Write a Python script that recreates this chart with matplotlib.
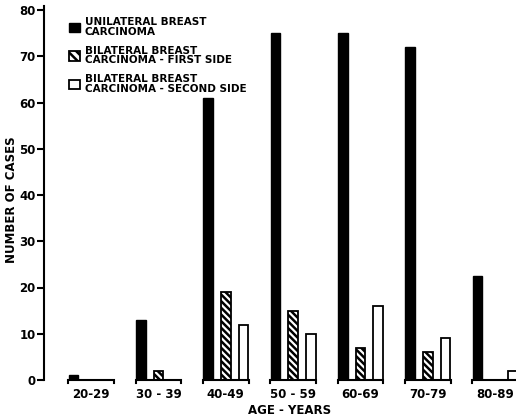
import matplotlib
matplotlib.use("Agg")
import matplotlib.pyplot as plt
import matplotlib.patches as mpatches
import numpy as np

# dati
age_groups = ["20-29", "30 - 39", "40-49", "50 - 59", "60-69", "70-79", "80-89"]
unilateral = [1, 13, 61, 75, 75, 72, 22.5]
bilateral_first = [0, 2, 19, 15, 7, 6, 0]
bilateral_second = [0, 0, 12, 10, 16, 9, 2]

plt.rcParams['font.family'] = ['DejaVu Sans']
plt.rcParams['font.weight'] = 'bold'
plt.rcParams['hatch.linewidth'] = 1.8

fig = plt.figure(figsize=(5.16, 4.17), dpi=100)
ax = fig.add_axes([44/516, 37/417, 1 - 44/516, 370/417])

x = np.arange(len(age_groups))
w = 0.145
off = 0.262

ax.bar(x - off, unilateral, w, color="black", edgecolor="black", linewidth=1)
ax.bar(x, bilateral_first, w, color="white", edgecolor="black", linewidth=1.3, hatch="\\\\\\\\\\")
ax.bar(x + off, bilateral_second, w, color="white", edgecolor="black", linewidth=1.3)

# base di ogni gruppo con le stanghette
half = 0.338
for xi in x:
    ax.plot([xi - half, xi - half, xi + half, xi + half], [-0.7, 0, 0, -0.7],
            color="black", lw=1.5, clip_on=False, solid_joinstyle="miter")

ax.set_xlim(-0.70, 6.31)
ax.set_ylim(0, 80)
ax.set_xticks(x)
ax.set_xticklabels(age_groups, fontsize=8.5, fontweight="bold")
ax.tick_params(axis="x", length=0, pad=6)
ax.set_yticks(np.arange(0, 81, 10))
ax.tick_params(axis="y", length=5, width=1.5, pad=1, labelsize=8.5)
for lab in ax.get_yticklabels():
    lab.set_fontweight("bold")

for s in ["top", "right", "bottom"]:
    ax.spines[s].set_visible(False)
ax.spines["left"].set_linewidth(1.5)
ax.spines["left"].set_bounds(0, 80.8)

fig.text(290/516, 1 - 411/417, "AGE - YEARS", ha="center", va="center",
         fontsize=8.5, fontweight="bold")
fig.text(12/516, 1 - 200/417, "NUMBER OF CASES", ha="center", va="center",
         rotation=90, fontsize=8.5, fontweight="bold")

handles = [
    mpatches.Patch(facecolor="black", edgecolor="black"),
    mpatches.Patch(facecolor="white", edgecolor="black", hatch="\\\\\\\\", linewidth=1.3),
    mpatches.Patch(facecolor="white", edgecolor="black", linewidth=1.3),
]
labels = ["UNILATERAL BREAST\nCARCINOMA",
          "BILATERAL BREAST\nCARCINOMA - FIRST SIDE",
          "BILATERAL BREAST\nCARCINOMA - SECOND SIDE"]
leg = fig.legend(handles, labels, loc="upper left", bbox_to_anchor=(62/516, 1 - 10/417),
                 frameon=False, fontsize=7.5, handlelength=1.0, handleheight=1.0,
                 handletextpad=0.5, labelspacing=0.85, borderpad=0.2)
for t in leg.get_texts():
    t.set_fontweight("bold")
    t.set_linespacing(0.95)

plt.savefig("out.png", dpi=100)
